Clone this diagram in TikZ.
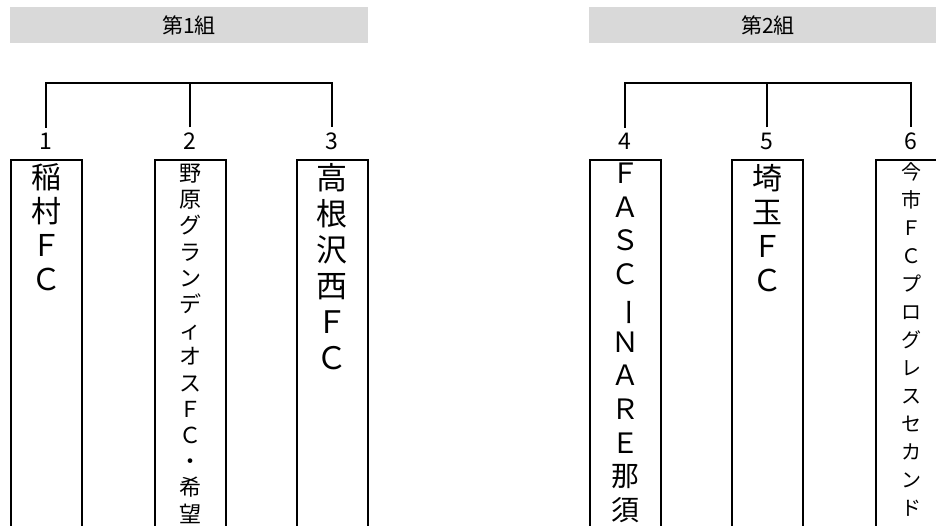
\documentclass[tikz,border=0pt]{standalone}
\usepackage{fontspec}
\setmainfont{Noto Sans CJK JP}
\usetikzlibrary{positioning}

\begin{document}
\begin{tikzpicture}[x=1pt, y=-1pt, line width=2pt,
        head/.style={fill=black!15, minimum width=358pt, minimum height=36pt, inner sep=0pt, font=\fontsize{21}{21}\selectfont},
        team/.style={draw, minimum width=71pt, minimum height=420pt, anchor=north, inner sep=0pt},
        num/.style={inner xsep=0pt, inner ysep=5pt, font=\fontsize{23}{23}\selectfont},
        teamname/.style={align=center, inner sep=0pt}]
    \clip (0,0) rectangle (936,526);
    % group headers
    \node [head] (g1) at (189,25) {第1組};
    \node [head] (g2) at (768,25) {第2組};
    % team boxes
    \node [team] (b1) at (46,159) {};
    \node [team] (b2) at (190,159) {};
    \node [team] (b3) at (332,159) {};
    \node [team] (b4) at (625,159) {};
    \node [team] (b5) at (767,159) {};
    \node [team] (b6) at (911,159) {};
    % draw numbers
    \node [num, above=3pt of b1] (n1) {1};
    \node [num, above=3pt of b2] (n2) {2};
    \node [num, above=3pt of b3] (n3) {3};
    \node [num, above=3pt of b4] (n4) {4};
    \node [num, above=3pt of b5] (n5) {5};
    \node [num, above=3pt of b6] (n6) {6};
    % team names
    \node [teamname, below=4pt of b1.north, font=\fontsize{30}{34}\selectfont] (t1) {稲\\村\\Ｆ\\Ｃ};
    \node [teamname, below=4pt of b2.north, font=\fontsize{22}{26.2}\selectfont] (t2) {野\\原\\グ\\ラ\\ン\\デ\\ィ\\オ\\ス\\Ｆ\\Ｃ\\・\\希\\望};
    \node [teamname, below=3pt of b3.north, font=\fontsize{31}{36}\selectfont] (t3) {高\\根\\沢\\西\\Ｆ\\Ｃ};
    \node [teamname, below=3pt of b4.north, font=\fontsize{28}{33.7}\selectfont] (t4) {Ｆ\\Ａ\\Ｓ\\Ｃ\\\rotatebox[origin=c]{-90}{ー}\\Ｎ\\Ａ\\Ｒ\\Ｅ\\那\\須};
    \node [teamname, below=4pt of b5.north, font=\fontsize{30}{34}\selectfont] (t5) {埼\\玉\\Ｆ\\Ｃ};
    \node [teamname, below=3pt of b6.north, font=\fontsize{20}{28}\selectfont] (t6) {今\\市\\Ｆ\\Ｃ\\プ\\ロ\\グ\\レ\\ス\\セ\\カ\\ン\\ド};
    % brackets
    \coordinate (h1) at (46,83);
    \coordinate (h2) at (625,83);
    \draw (n1.north) -- (n1 |- h1) -- (n3 |- h1) -- (n3.north);
    \draw (n2.north) -- (n2 |- h1);
    \draw (n4.north) -- (n4 |- h2) -- (n6 |- h2) -- (n6.north);
    \draw (n5.north) -- (n5 |- h2);
\end{tikzpicture}
\end{document}
